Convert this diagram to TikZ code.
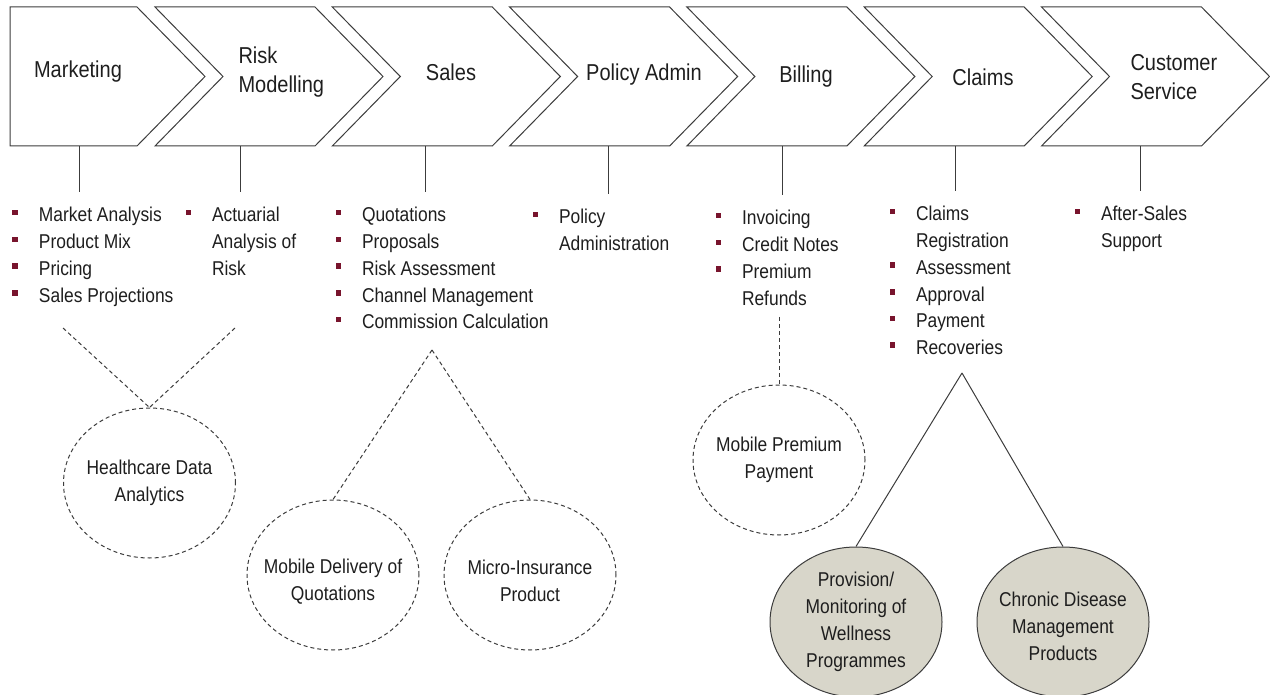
\documentclass[tikz,border=0pt]{standalone}
\usepackage{fontspec}
\setmainfont{Liberation Sans}[FakeStretch=0.87]
\usetikzlibrary{shapes.geometric}

\definecolor{bulletred}{RGB}{120,20,45}
\definecolor{inkgray}{RGB}{60,60,60}
\definecolor{textgray}{RGB}{30,30,30}
\definecolor{wellfill}{RGB}{216,214,202}

\newcommand{\itm}{\makebox[26.5pt][l]{\color{bulletred}\rule[6.5pt]{5.5pt}{5.5pt}}}
\newcommand{\cnt}{\hspace*{26.5pt}}

\tikzset{
    stage/.style={font=\fontsize{23}{29}\selectfont, text=textgray, align=left, inner sep=0},
    tasks/.style={anchor=base west, font=\fontsize{20}{26.7}\selectfont, text=textgray,
    inner xsep=0, inner ysep=11pt, outer sep=0},
    idea/.style={ellipse, draw=inkgray, minimum width=172pt, minimum height=150pt, inner sep=0},
    ideatext/.style={font=\fontsize{20}{27}\selectfont, text=textgray, align=center},
    draft/.style={dash pattern=on 4pt off 3pt}
}

\begin{document}
\begin{tikzpicture}[x=1pt, y=-1pt, line width=1pt]

    \useasboundingbox (0,0) rectangle (1270,695);

    % Value chain
    \draw[inkgray] (10,7) -- (137,7) -- (205,76.5) -- (137,146) -- (10,146) -- cycle;
    \foreach \x in {155, 332.3, 509.6, 686.9, 864.2, 1041.5}
        \draw[inkgray] (\x,7) -- ++(160,0) -- ++(68,69.5) -- ++(-68,69.5)
        -- ++(-160,0) -- ++(68,-69.5) -- cycle;

    \node[stage] (mk) at (78,72) {Marketing};
    \node[stage, anchor=west] (rm) at (238,72.5) {Risk\\Modelling};
    \node[stage] (sa) at (451,72) {Sales};
    \node[stage] (pa) at (644,75) {Policy Admin};
    \node[stage] (bi) at (806,77) {Billing};
    \node[stage] (cl) at (983,77) {Claims};
    \node[stage, anchor=west] (cs) at (1130,77) {Customer\\Service};

    \foreach \n/\x in {mk/79, rm/240, sa/425, pa/608, bi/782, cl/955, cs/1140}
        \coordinate (\n-b) at (\x,146);

    % Activities
    \node[tasks] (mk-l) at (12.5,222) {\begin{tabular}[t]{@{}l@{}}
        \itm Market Analysis\\ \itm Product Mix\\ \itm Pricing\\ \itm Sales Projections
    \end{tabular}};
    \node[tasks] (rm-l) at (185.5,222) {\begin{tabular}[t]{@{}l@{}}
        \itm Actuarial\\ \cnt Analysis of\\ \cnt Risk
    \end{tabular}};
    \node[tasks] (sa-l) at (335.5,222) {\begin{tabular}[t]{@{}l@{}}
        \itm Quotations\\ \itm Proposals\\ \itm Risk Assessment\\
        \itm Channel Management\\ \itm Commission Calculation
    \end{tabular}};
    \node[tasks] (pa-l) at (532.5,224) {\begin{tabular}[t]{@{}l@{}}
        \itm Policy\\ \cnt Administration
    \end{tabular}};
    \node[tasks] (bi-l) at (715.5,225) {\begin{tabular}[t]{@{}l@{}}
        \itm Invoicing\\ \itm Credit Notes\\ \itm Premium\\ \cnt Refunds
    \end{tabular}};
    \node[tasks] (cl-l) at (889.5,221) {\begin{tabular}[t]{@{}l@{}}
        \itm Claims\\ \cnt Registration\\ \itm Assessment\\ \itm Approval\\
        \itm Payment\\ \itm Recoveries
    \end{tabular}};
    \node[tasks] (cs-l) at (1074.5,221) {\begin{tabular}[t]{@{}l@{}}
        \itm After-Sales\\ \cnt Support
    \end{tabular}};

    \foreach \n in {mk, rm, sa, pa, bi, cl, cs}
        \draw[inkgray] (\n-b) -- (\n-b |- \n-l.north);

    % Opportunities
    \node[idea, draft, label={[ideatext]center:Healthcare Data\\Analytics}] (hda) at (149.5,483) {};
    \node[idea, draft, label={[ideatext, yshift=-7pt]center:Mobile Delivery of\\Quotations}] (mdq) at (333,575) {};
    \node[idea, draft, label={[ideatext, yshift=-6pt]center:Micro-Insurance\\Product}] (mip) at (530,575) {};
    \node[idea, draft, label={[ideatext]center:Mobile Premium\\Payment}] (mpp) at (779,460) {};
    \node[idea, fill=wellfill,
    label={[ideatext]center:Provision/\\Monitoring of\\Wellness\\Programmes}] (pmw) at (856,622) {};
    \node[idea, fill=wellfill,
    label={[ideatext, yshift=-4pt]center:Chronic Disease\\Management\\Products}] (cdm) at (1063,622) {};

    % Links
    \coordinate (mk-e) at (63,328);
    \coordinate (rm-e) at (235,328);
    \coordinate (sa-e) at (432,350);
    \coordinate (bi-e) at (779,317);
    \coordinate (cl-e) at (962,373);

    \draw[inkgray, draft] (mk-e) -- (hda.north);
    \draw[inkgray, draft] (rm-e) -- (hda.north);
    \foreach \t in {mdq, mip}
        \draw[inkgray, draft] (sa-e) -- (\t.north);
    \draw[inkgray, draft] (bi-e) -- (mpp.north);
    \foreach \t in {pmw, cdm}
        \draw[inkgray] (cl-e) -- (\t.north);

\end{tikzpicture}
\end{document}
